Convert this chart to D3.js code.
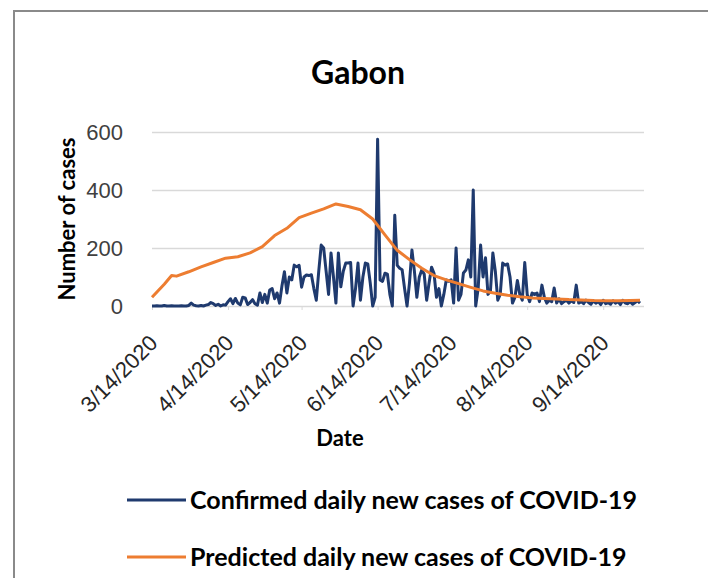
<!DOCTYPE html>
<html>
<head>
<meta charset="utf-8">
<script src="https://cdn.jsdelivr.net/npm/d3@7"></script>
<style>
	body { margin: 0; background: #fff; }
	svg { display: block; font-family: Lato, 'Open Sans', sans-serif; }
</style>
</head>
<body>
<svg></svg>
<script>
var chartTitle = 'Gabon';
var startDate = '2020-03-14';

// confirmed daily new cases, one value per day from startDate
var confirmed = [
	0, 0, 1, 0, 0, 2, 0, 0, 1, 0,
	0, 0, 1, 0, 0, 2, 10, 3, 1, 0,
	2, 0, 3, 5, 12, 8, 2, 6, 0, 4,
	3, 15, 25, 8, 26, 10, 4, 30, 28, 5,
	12, 22, 8, 3, 45, 12, 40, 10, 55, 60,
	25, 45, 10, 70, 118, 45, 100, 90, 141, 135,
	140, 65, 100, 107, 105, 108, 60, 20, 120, 210,
	200, 120, 40, 183, 100, 10, 183, 66, 120, 148,
	148, 150, 0, 60, 148, 20, 100, 148, 145, 79,
	0, 30, 575, 90, 85, 113, 110, 40, 0, 313,
	140, 130, 125, 60, 0, 80, 193, 120, 30, 100,
	124, 110, 20, 80, 134, 113, 30, 60, 0, 40,
	90, 85, 90, 10, 200, 20, 40, 114, 124, 159,
	100, 400, 0, 60, 210, 100, 166, 40, 50, 183,
	120, 20, 40, 148, 141, 145, 100, 10, 30, 88,
	40, 20, 150, 40, 15, 45, 40, 45, 15, 72,
	30, 10, 20, 15, 62, 10, 25, 8, 15, 20,
	10, 18, 12, 72, 10, 15, 8, 20, 12, 6,
	18, 10, 15, 5, 20, 8, 12, 6, 18, 10,
	15, 5, 20, 10, 8, 15, 6, 12, 18, 10
];

var predictedDay = [0, 5, 8, 10, 15, 20, 25, 30, 35, 40, 45, 50, 55, 60, 65, 70, 75, 80, 85, 90,
	95, 100, 105, 110, 115, 120, 125, 130, 135, 140, 145, 150, 155, 160, 165, 170, 175, 180, 185, 190, 195, 199];
var predicted = [30, 75, 105, 103, 118, 135, 150, 165, 170, 183, 205, 243, 268, 305, 320, 335, 352, 343, 332, 300,
	245, 192, 160, 130, 105, 90, 77, 64, 52, 44, 37, 32, 28, 26, 24, 22, 21, 19, 18, 18, 19, 20];

var yTicks = [0, 200, 400, 600];
var xTicks = ['2020-03-14', '2020-04-14', '2020-05-14', '2020-06-14', '2020-07-14', '2020-08-14', '2020-09-14'];
var seriesNames = ['Confirmed daily new cases of COVID-19', 'Predicted daily new cases of COVID-19'];
var seriesColors = ['#1f3a6e', '#ed7d31'];


function render() {
	var W = 708, H = 578;
	var plot = {L: 152, R: 640, T: 132, B: 306};
	var parse = d3.timeParse('%Y-%m-%d');
	var start = parse(startDate);

	var confirmedData = confirmed.map(function(v, i) {
		return {'Date': d3.timeDay.offset(start, i), 'Value': v};
	});
	var predictedData = predicted.map(function(v, i) {
		return {'Date': d3.timeDay.offset(start, predictedDay[i]), 'Value': v};
	});

	var x = d3.scaleTime()
					.domain(d3.extent(confirmedData, function(d) { return d['Date']; }))
					.range([plot.L, plot.R]);
	var y = d3.scaleLinear()
					.domain([0, 600])
					.range([plot.B, plot.T]);

	var svg = d3.select('svg')
			.attr('width', W)
			.attr('height', H);

	// outer frame
	svg.append('path')
		.attr('d', 'M14,' + H + 'V11H' + W)
		.attr('fill', 'none')
		.attr('stroke', '#8a8a8a')
		.attr('stroke-width', 2);

	svg.append('text')
		.attr('x', 358)
		.attr('y', 84)
		.attr('text-anchor', 'middle')
		.style('font-size', '32px')
		.style('font-weight', 'bold')
		.text(chartTitle);

	var yAxis = d3.axisLeft(y)
							.tickValues(yTicks)
							.tickSize(-(plot.R - plot.L + 4))
							.tickPadding(29);
	var gy = svg.append('g')
		.attr('transform', 'translate(' + plot.L + ',0)')
		.call(yAxis);
	gy.select('.domain').remove();
	gy.selectAll('line').attr('stroke', '#d9d9d9').attr('stroke-width', 1.5);
	gy.selectAll('text')
		.attr('fill', '#404040')
		.style('font-size', '22px');

	var xAxis = d3.axisBottom(x)
							.tickValues(xTicks.map(parse))
							.tickSize(4)
							.tickFormat(d3.timeFormat('%-m/%-d/%Y'));
	var gx = svg.append('g')
		.attr('transform', 'translate(0,' + plot.B + ')')
		.call(xAxis);
	gx.select('.domain').remove();
	gx.selectAll('line').attr('stroke', '#d9d9d9');
	gx.selectAll('text')
		.attr('x', 0)
		.attr('y', 0)
		.attr('dy', '0.35em')
		.attr('transform', 'translate(1,33) rotate(-45)')
		.attr('text-anchor', 'end')
		.attr('fill', '#262626')
		.style('font-size', '22px');

	svg.append('text')
		.attr('transform', 'translate(67,' + ((plot.T + plot.B) / 2) + ') rotate(-90)')
		.attr('text-anchor', 'middle')
		.attr('dy', '0.35em')
		.style('font-size', '22px')
		.style('font-weight', 'bold')
		.text('Number of cases');

	svg.append('text')
		.attr('x', 340)
		.attr('y', 446)
		.attr('text-anchor', 'middle')
		.style('font-size', '22px')
		.style('font-weight', 'bold')
		.text('Date');

	var line = d3.line()
							.x(function(d) { return x(d['Date']); })
							.y(function(d) { return y(d['Value']); });

	svg.append('path')
		.attr('d', line(confirmedData))
		.attr('fill', 'none')
		.attr('stroke', seriesColors[0])
		.attr('stroke-width', 3)
		.attr('stroke-linejoin', 'round');

	svg.append('path')
		.attr('d', line(predictedData))
		.attr('fill', 'none')
		.attr('stroke', seriesColors[1])
		.attr('stroke-width', 3)
		.attr('stroke-linejoin', 'round');

	var legend = svg.selectAll('.legend')
		.data(seriesNames)
		.enter().append('g')
		.attr('class', 'legend')
		.attr('transform', function(d, i) { return 'translate(127,' + (500 + i * 57) + ')'; });
	legend.append('line')
		.attr('x1', 0)
		.attr('x2', 59)
		.attr('stroke', function(d, i) { return seriesColors[i]; })
		.attr('stroke-width', 3);
	legend.append('text')
		.attr('x', 63)
		.attr('dy', '0.35em')
		.style('font-size', '25px')
		.style('font-weight', 'bold')
		.text(function(d) { return d; });
}

render();
</script>
</body>
</html>
